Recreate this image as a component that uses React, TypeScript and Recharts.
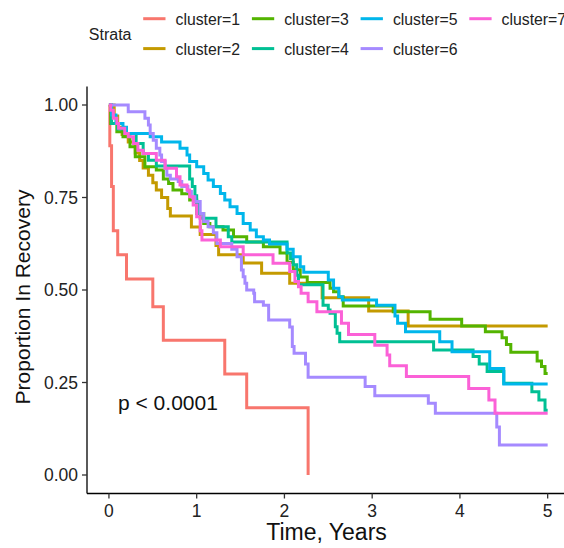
import React from 'react';
import { LineChart, Line, XAxis, YAxis } from 'recharts';

const FONT = '"Liberation Sans", Arial, Helvetica, sans-serif';

const strataNames = ['cluster=1', 'cluster=2', 'cluster=3', 'cluster=4', 'cluster=5', 'cluster=6', 'cluster=7'];
const strataColors = ['#F8766D', '#C49A00', '#53B400', '#00C094', '#00B6EB', '#A58AFF', '#FB61D7'];

const c1Time = [0, 0.01, 0.03, 0.05, 0.10, 0.20, 0.50, 0.62, 1.32, 1.57, 2.27];
const c1Surv = [1, 0.89, 0.78, 0.66, 0.595, 0.53, 0.455, 0.364, 0.273, 0.182, 0];

const c2Time = [0, 0.06, 0.10, 0.15, 0.22, 0.30, 0.35, 0.39, 0.45, 0.50, 0.54, 0.60, 0.67, 0.70, 0.94, 1.04, 1.22, 1.25, 1.53, 1.74, 2.06, 2.43, 2.96, 3.41, 5.0];
const c2Surv = [1, 0.97, 0.94, 0.92, 0.90, 0.87, 0.85, 0.83, 0.81, 0.79, 0.77, 0.75, 0.72, 0.70, 0.67, 0.65, 0.62, 0.595, 0.573, 0.545, 0.518, 0.479, 0.443, 0.403, 0.403];

const c3Time = [0, 0.02, 0.09, 0.16, 0.24, 0.30, 0.41, 0.54, 0.62, 0.68, 0.73, 0.83, 0.92, 1.0, 1.08, 1.15, 1.30, 1.42, 1.57, 1.76, 1.95, 2.03, 2.10, 2.18, 2.26, 2.52, 2.56, 2.62, 2.67, 3.24, 3.66, 4.02, 4.29, 4.48, 4.53, 4.58, 4.88, 4.93, 4.97, 5.0];
const c3Surv = [1, 0.95, 0.928, 0.914, 0.887, 0.86, 0.833, 0.824, 0.80, 0.788, 0.77, 0.76, 0.743, 0.707, 0.68, 0.671, 0.662, 0.644, 0.63, 0.617, 0.60, 0.575, 0.555, 0.535, 0.52, 0.505, 0.495, 0.482, 0.457, 0.441, 0.421, 0.403, 0.387, 0.371, 0.353, 0.332, 0.308, 0.293, 0.274, 0.274];

const c4Time = [0, 0.03, 0.10, 0.20, 0.31, 0.39, 0.45, 0.54, 0.92, 0.95, 0.98, 1.0, 1.02, 1.04, 1.22, 1.36, 1.40, 2.03, 2.07, 2.10, 2.14, 2.16, 2.44, 2.50, 2.52, 2.58, 2.60, 2.63, 3.70, 4.15, 4.22, 4.31, 4.50, 4.82, 4.90, 4.97, 5.0];
const c4Surv = [1, 0.95, 0.935, 0.923, 0.896, 0.869, 0.851, 0.835, 0.80, 0.78, 0.755, 0.734, 0.707, 0.694, 0.671, 0.644, 0.63, 0.60, 0.585, 0.568, 0.54, 0.514, 0.459, 0.446, 0.437, 0.401, 0.383, 0.36, 0.338, 0.32, 0.30, 0.28, 0.248, 0.225, 0.203, 0.175, 0.175];

const c5Time = [0, 0.03, 0.08, 0.16, 0.20, 0.47, 0.60, 0.81, 0.89, 0.92, 1.0, 1.08, 1.13, 1.19, 1.27, 1.32, 1.38, 1.46, 1.53, 1.61, 1.68, 1.76, 1.83, 2.03, 2.10, 2.18, 2.22, 2.50, 2.56, 2.62, 2.66, 3.05, 3.26, 3.29, 3.38, 3.77, 3.91, 4.34, 4.50, 5.0];
const c5Surv = [1, 0.973, 0.95, 0.94, 0.923, 0.914, 0.90, 0.883, 0.865, 0.847, 0.833, 0.815, 0.797, 0.78, 0.761, 0.743, 0.725, 0.707, 0.68, 0.662, 0.644, 0.635, 0.624, 0.61, 0.59, 0.563, 0.548, 0.527, 0.505, 0.482, 0.473, 0.459, 0.43, 0.41, 0.387, 0.36, 0.333, 0.288, 0.246, 0.246];

const c6Time = [0, 0.22, 0.41, 0.45, 0.47, 0.505, 0.54, 0.58, 0.60, 0.64, 0.66, 0.70, 0.79, 0.83, 0.90, 0.94, 0.98, 1.04, 1.08, 1.13, 1.19, 1.23, 1.40, 1.46, 1.51, 1.53, 1.55, 1.57, 1.65, 1.66, 1.76, 1.82, 2.06, 2.09, 2.11, 2.24, 2.27, 2.92, 3.03, 3.64, 3.72, 4.42, 4.45, 5.0];
const c6Surv = [1, 0.982, 0.964, 0.946, 0.923, 0.905, 0.883, 0.865, 0.847, 0.829, 0.81, 0.80, 0.793, 0.78, 0.766, 0.752, 0.739, 0.707, 0.685, 0.671, 0.655, 0.626, 0.61, 0.59, 0.554, 0.536, 0.518, 0.50, 0.491, 0.468, 0.459, 0.419, 0.40, 0.347, 0.329, 0.30, 0.264, 0.239, 0.214, 0.194, 0.167, 0.13, 0.081, 0.081];

const c7Time = [0, 0.02, 0.05, 0.09, 0.11, 0.18, 0.22, 0.28, 0.33, 0.39, 0.54, 0.64, 0.77, 0.81, 0.89, 0.92, 0.96, 1.0, 1.04, 1.06, 1.27, 1.53, 1.87, 2.06, 2.12, 2.16, 2.19, 2.27, 2.37, 2.65, 2.73, 3.03, 3.17, 3.20, 3.39, 4.10, 4.33, 4.40, 5.0];
const c7Surv = [1, 0.986, 0.964, 0.95, 0.937, 0.923, 0.914, 0.896, 0.878, 0.869, 0.851, 0.829, 0.806, 0.784, 0.77, 0.752, 0.73, 0.698, 0.66, 0.635, 0.617, 0.595, 0.572, 0.55, 0.523, 0.509, 0.491, 0.468, 0.441, 0.41, 0.38, 0.351, 0.324, 0.295, 0.266, 0.234, 0.203, 0.167, 0.167];

const xTicks = [0, 1, 2, 3, 4, 5];
const yTicks = [0, 0.25, 0.5, 0.75, 1];

const allTimes = [c1Time, c2Time, c3Time, c4Time, c5Time, c6Time, c7Time];
const allSurv = [c1Surv, c2Surv, c3Surv, c4Surv, c5Surv, c6Surv, c7Surv];

const series = strataNames.map((name, i) => ({
  name,
  color: strataColors[i],
  data: allTimes[i].map((t, j) => ({ t, s: allSurv[i][j] })),
}));

// legend layout: column-major, 2 rows
const legendItems = strataNames.map((name, i) => ({
  name,
  color: strataColors[i],
  col: Math.floor(i / 2),
  row: i % 2,
}));

export default function App() {
  return (
    <div style={{ position: 'absolute', left: 0, top: 0, width: 564, height: 548, overflow: 'hidden', background: '#fff' }}>
      <div style={{ position: 'absolute', left: 0, top: 0 }}>
        <LineChart width={600} height={548} margin={{ top: 86.5, right: 30.4, bottom: 0, left: 1 }}>
          <XAxis
            dataKey="t"
            type="number"
            domain={[-0.25, 5.25]}
            ticks={xTicks}
            allowDataOverflow
            height={54.5}
            tickSize={5}
            tickMargin={6}
            axisLine={{ stroke: '#000', strokeWidth: 1.3 }}
            tickLine={{ stroke: '#333', strokeWidth: 1.3 }}
            tick={{ fontSize: 17.5, fill: '#222', fontFamily: FONT }}
          />
          <YAxis
            type="number"
            domain={[-0.05, 1.05]}
            ticks={yTicks}
            allowDataOverflow
            width={86}
            tickSize={5}
            tickMargin={4}
            tickFormatter={(v: number) => v.toFixed(2)}
            axisLine={{ stroke: '#000', strokeWidth: 1.3 }}
            tickLine={{ stroke: '#333', strokeWidth: 1.3 }}
            tick={{ fontSize: 17.5, fill: '#222', fontFamily: FONT }}
          />
          {series.map((s) => (
            <Line
              key={s.name}
              data={s.data}
              dataKey="s"
              name={s.name}
              type="stepAfter"
              stroke={s.color}
              strokeWidth={3}
              dot={false}
              activeDot={false}
              isAnimationActive={false}
            />
          ))}
        </LineChart>
      </div>
      <svg width={564} height={548} style={{ position: 'absolute', left: 0, top: 0, pointerEvents: 'none' }} fontFamily={FONT}>
        <text x={88.8} y={40.3} fontSize={16} fill="#222">Strata</text>
        {legendItems.map((it) => {
          const x0 = 143.2 + it.col * 108.7;
          const base = it.row === 0 ? 25.2 : 54.7;
          const ky = it.row === 0 ? 18.7 : 48.6;
          return (
            <g key={it.name}>
              <line x1={x0} x2={x0 + 22.3} y1={ky} y2={ky} stroke={it.color} strokeWidth={3} />
              <text x={x0 + 32.3} y={base} fontSize={15.8} fill="#222">{it.name}</text>
            </g>
          );
        })}
        <text transform="translate(30,297) rotate(-90)" textAnchor="middle" fontSize={21} fill="#111">Proportion In Recovery</text>
        <text x={326.5} y={540} textAnchor="middle" fontSize={23} fill="#111">Time, Years</text>
        <text x={118} y={410} fontSize={21} fill="#111">p &lt; 0.0001</text>
      </svg>
    </div>
  );
}
